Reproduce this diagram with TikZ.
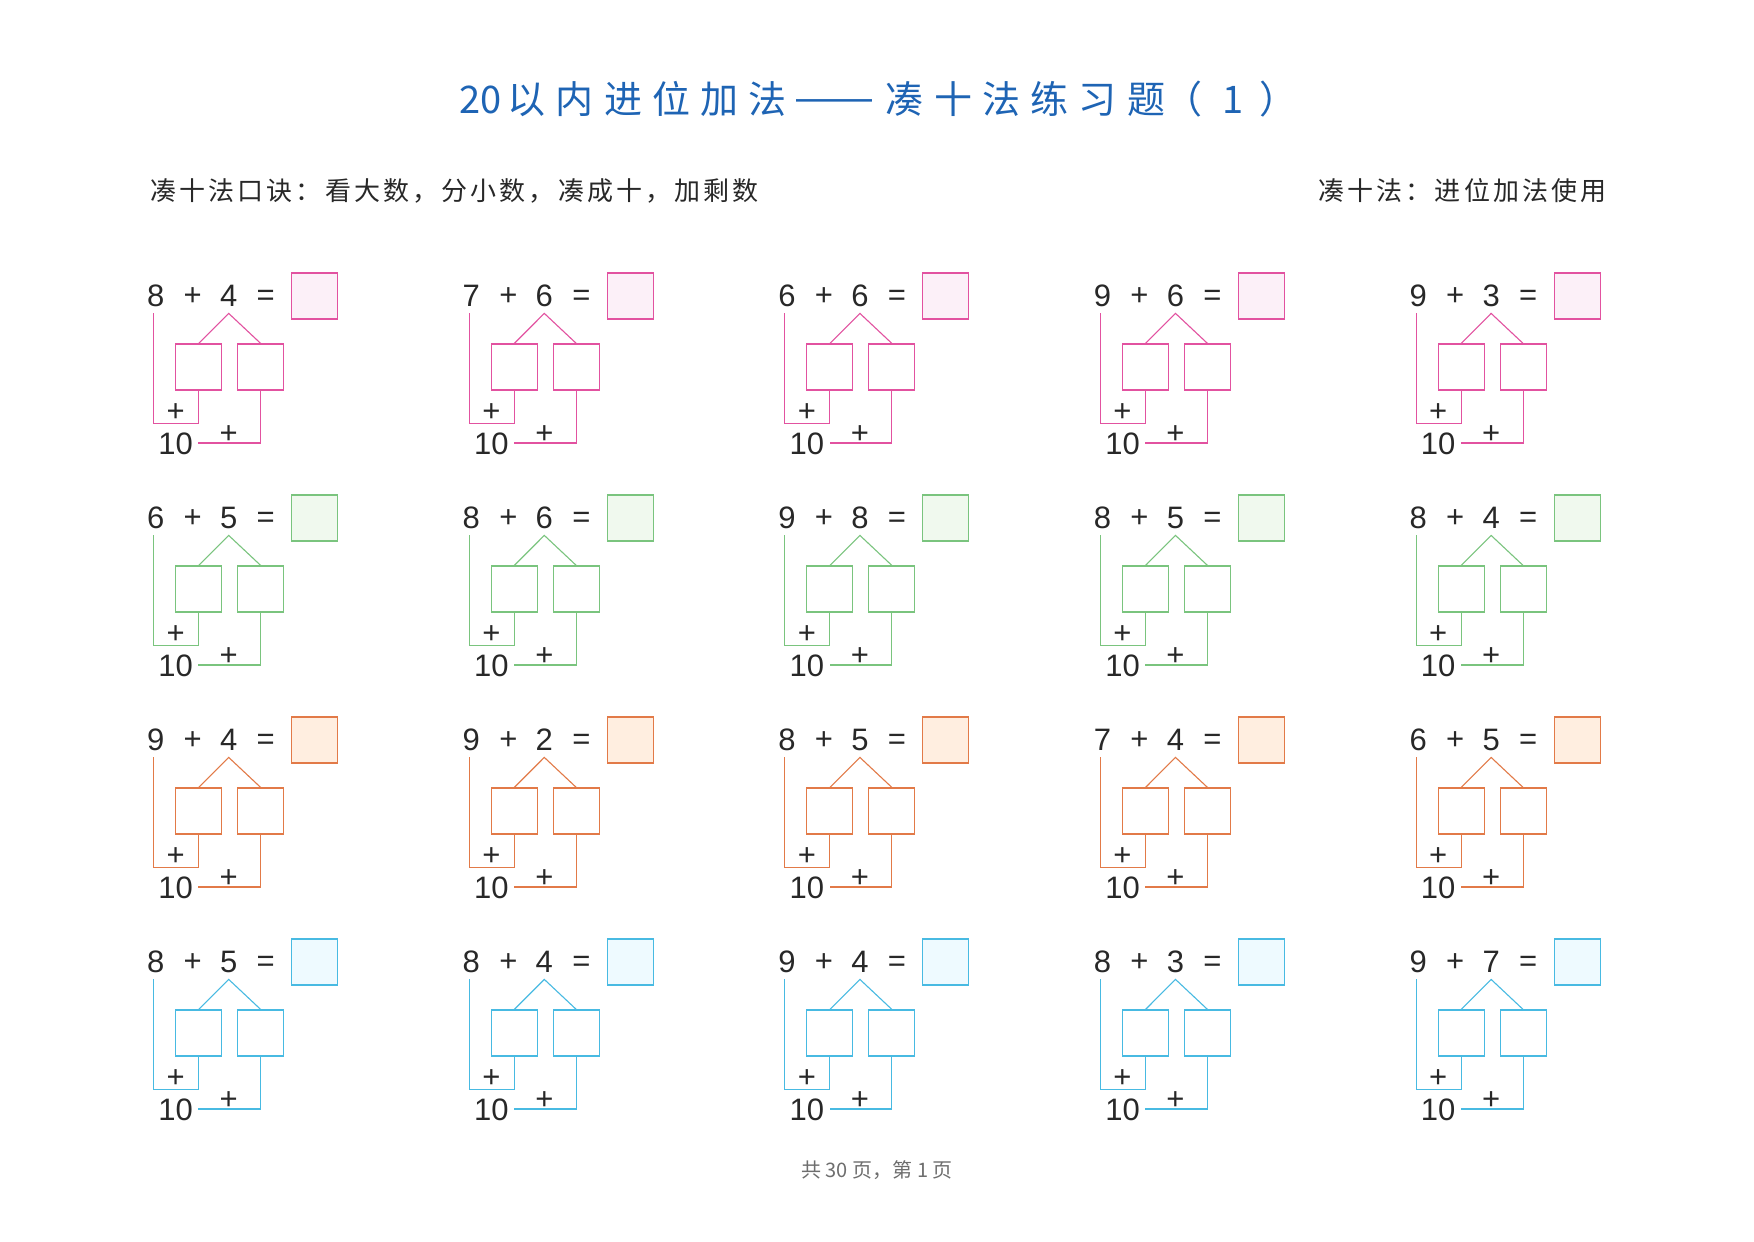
\documentclass[tikz,border=0pt]{standalone}
\usepackage{fontspec}
\setmainfont{Liberation Sans}
\newfontfamily\cjk{Noto Sans CJK SC}
\newfontfamily\cjkwide{Noto Sans CJK SC}[LetterSpace=27]
\newfontfamily\cjkmid{Noto Sans CJK SC}[LetterSpace=12]
\usetikzlibrary{positioning}
\definecolor{titleblue}{RGB}{30,100,180}
\definecolor{textgray}{RGB}{40,40,40}
\definecolor{footgray}{RGB}{110,110,110}
\definecolor{line0}{RGB}{226,82,160}
\definecolor{fill0}{RGB}{252,240,248}
\definecolor{line1}{RGB}{122,196,126}
\definecolor{fill1}{RGB}{240,249,238}
\definecolor{line2}{RGB}{226,122,72}
\definecolor{fill2}{RGB}{255,238,224}
\definecolor{line3}{RGB}{72,186,226}
\definecolor{fill3}{RGB}{238,250,255}
\tikzset{x=0.5pt, y=-0.5pt,
digit/.style={inner xsep=2.5pt, inner ysep=3.5pt, text height=11pt, text depth=0pt,
  font=\fontsize{15.5}{18}\selectfont, text=textgray},
sign/.style={digit},
answer/.style={draw, minimum size=23pt, inner sep=0pt, line width=0.55pt},
part/.style={draw, minimum size=23pt, inner sep=0pt, line width=0.55pt},
link/.style={line width=0.55pt},
}

\begin{document}
\begin{tikzpicture}
    \fill[white] (0,0) rectangle (1754,1241);
    \useasboundingbox (0,0) rectangle (1754,1241);
    \node[inner sep=0pt, anchor=west, font=\fontsize{19}{22}\selectfont, text=titleblue] (title) at (459,99)
        {\cjk 20\hspace{3pt}\cjkwide 以内进位加法\hspace{5pt}\raisebox{1.5pt}{\rmfamily ——}\hspace{6.5pt}\cjkwide
         凑十法练习题\hspace{-0.5pt}（\hspace{10pt}1\hspace{8pt}）};
    \node[inner sep=0pt, anchor=west, font=\fontsize{13}{15}\selectfont, text=textgray] (rhyme) at (150,191)
        {\cjkmid 凑十法口诀：看大数，分小数，凑成十，加剩数};
    \node[inner sep=0pt, anchor=east, font=\fontsize{13}{15}\selectfont, text=textgray] (usage) at (1607,191)
        {\cjkmid 凑十法：进位加法使用};
    \node[inner sep=0pt, font=\fontsize{10}{12}\selectfont, text=footgray] (page) at (877,1170)
        {\cjk 共 30 页，第 1 页};
    % one cell per sum, five to a row
    \foreach \a/\b [count=\i from 0] in {8/4,7/6,6/6,9/6,9/3,6/5,8/6,9/8,8/5,8/4,
                                          9/4,9/2,8/5,7/4,6/5,8/5,8/4,9/4,8/3,9/7}{
        \pgfmathtruncatemacro\col{mod(\i,5)}
        \pgfmathtruncatemacro\row{\i/5}
        \begin{scope}[shift={({155.7+315.6*\col},{295+222*\row})}]
            \node[digit] (a\i) at (0,0) {\a};
            \node[sign] (p\i) at (37,-1) {+};
            \node[digit] (b\i) at (73,0) {\b};
            \node[sign] (e\i) at (110,-1) {=};
            \node[answer, draw=line\row, fill=fill\row] (s\i) at (159,1) {};
            \node[part, draw=line\row] (l\i) at (43,72) {};
            \node[part, draw=line\row] (r\i) at (105,72) {};
            \node[sign] (lp\i) at (20,115) {+};
            \node[digit] (t\i) at (20,148) {10};
            \node[sign] (rp\i) at (73,137) {+};
            \draw[link, line\row] (l\i.north) -- (b\i.south) -- (r\i.north);
            \draw[link, line\row] ([xshift=-1pt]a\i.south) |- ([yshift=-16.5pt]l\i.south) -- (l\i.south);
            \draw[link, line\row] (r\i.south) |- (t\i.east);
        \end{scope}
    }
\end{tikzpicture}
\end{document}
